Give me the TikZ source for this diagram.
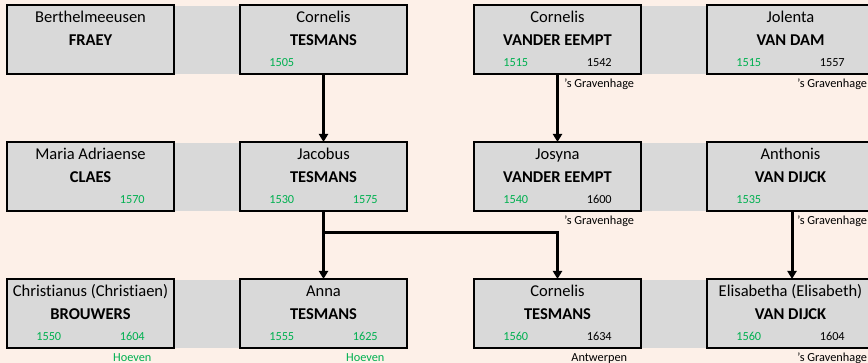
\documentclass[tikz,border=0pt]{standalone}
\usepackage{fontspec}
\setmainfont{Carlito}[Ligatures=NoCommon]
\usetikzlibrary{calc,arrows.meta}
\definecolor{bgpeach}{RGB}{253,240,232}
\definecolor{boxgray}{RGB}{217,217,217}
\definecolor{yrgreen}{RGB}{0,176,80}
\tikzset{
  pbox/.style={draw=black, line width=1.2pt, fill=boxgray, minimum width=167pt, minimum height=69pt, inner sep=0pt, outer sep=0pt, anchor=north west},
  fn/.style={anchor=base, inner sep=0pt, font=\fontsize{16.5}{18}\selectfont},
  sn/.style={anchor=base, inner sep=0pt, font=\fontsize{16.5}{18}\selectfont\bfseries},
  yr/.style={anchor=base, inner sep=0pt, font=\fontsize{12.3}{14}\selectfont},
  plc/.style={anchor=base, inner sep=0pt, font=\fontsize{12.3}{14}\selectfont},
  conn/.style={line width=3pt, -{Triangle[width=9pt,length=8pt]}},
  band/.style={fill=boxgray}
}
\newcommand\pbox[5]{%
  \node[pbox] (#1) at (#2,#3) {};
  \node[fn] (#1f) at ($(#1.north)+(0,17.8)$) {#4};
  \node[sn] (#1s) at ($(#1.north)+(0,40.5)$) {#5};
}
\newcommand\pyear[4]{%
  \node[yr,text=#4] (#1y#2) at ($(#1.north west)+(#2,62)$) {#3};
}
\newcommand\pplace[3]{%
  \node[plc,text=#3] (#1p) at ($(#1.south west)+(125.25,13.3)$) {#2};
}
\begin{document}
\begin{tikzpicture}[x=1pt,y=-1pt]
\useasboundingbox (0,0) rectangle (868,363);
\fill[bgpeach] (0,0) rectangle (868,363);
\begin{scope}
\clip (0,0) rectangle (868,363);
% bands (drawn first)
\foreach \r in {5,142,279}{
  \fill[band] (174,\r+1) rectangle (240,\r+69);
  \fill[band] (641,\r+1) rectangle (707,\r+69);
}
% row 1
\pbox{b11}{7}{5}{Berthelmeeusen}{FRAEY}
\pbox{b12}{240}{5}{Cornelis}{TESMANS}
\pyear{b12}{41.75}{1505}{yrgreen}
\pbox{b13}{474}{5}{Cornelis}{VANDER EEMPT}
\pyear{b13}{41.75}{1515}{yrgreen}
\pyear{b13}{125.25}{1542}{black}
\pplace{b13}{'s Gravenhage}{black}
\pbox{b14}{707}{5}{Jolenta}{VAN DAM}
\pyear{b14}{41.75}{1515}{yrgreen}
\pyear{b14}{125.25}{1557}{black}
\pplace{b14}{'s Gravenhage}{black}
% row 2
\pbox{b21}{7}{142}{Maria Adriaense}{CLAES}
\pyear{b21}{125.25}{1570}{yrgreen}
\pbox{b22}{240}{142}{Jacobus}{TESMANS}
\pyear{b22}{41.75}{1530}{yrgreen}
\pyear{b22}{125.25}{1575}{yrgreen}
\pbox{b23}{474}{142}{Josyna}{VANDER EEMPT}
\pyear{b23}{41.75}{1540}{yrgreen}
\pyear{b23}{125.25}{1600}{black}
\pplace{b23}{'s Gravenhage}{black}
\pbox{b24}{707}{142}{Anthonis}{VAN DIJCK}
\pyear{b24}{41.75}{1535}{yrgreen}
\pplace{b24}{'s Gravenhage}{black}
% row 3
\pbox{b31}{7}{279}{Christianus (Christiaen)}{BROUWERS}
\pyear{b31}{41.75}{1550}{yrgreen}
\pyear{b31}{125.25}{1604}{yrgreen}
\pplace{b31}{Hoeven}{yrgreen}
\pbox{b32}{240}{279}{Anna}{TESMANS}
\pyear{b32}{41.75}{1555}{yrgreen}
\pyear{b32}{125.25}{1625}{yrgreen}
\pplace{b32}{Hoeven}{yrgreen}
\pbox{b33}{474}{279}{Cornelis}{TESMANS}
\pyear{b33}{41.75}{1560}{yrgreen}
\pyear{b33}{125.25}{1634}{black}
\pplace{b33}{Antwerpen}{black}
\pbox{b34}{707}{279}{Elisabetha (Elisabeth)}{VAN DIJCK}
\pyear{b34}{41.75}{1560}{yrgreen}
\pyear{b34}{125.25}{1604}{black}
\pplace{b34}{'s Gravenhage}{black}
% connectors
\draw[conn] (b12.south) -- (b22.north);
\draw[conn] (b13.south) -- (b23.north);
\draw[conn] ($(b24.south west)+(85,0)$) coordinate (c24) -- (c24 |- b34.north);
\coordinate (jn) at ($(b22.south)+(0,22)$);
\draw[conn] (b22.south) -- (b32.north);
\draw[line width=3pt] (jn) -- (jn -| b33.north);
\draw[conn] ($(jn -| b33.north)+(0,-1.5)$) -- (b33.north);
\end{scope}
\end{tikzpicture}
\end{document}
